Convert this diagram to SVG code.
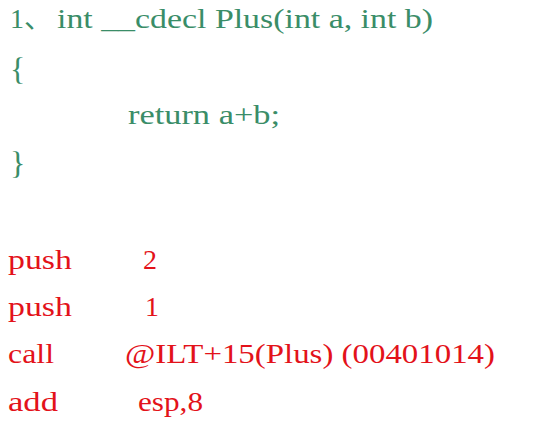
<svg xmlns="http://www.w3.org/2000/svg" width="534" height="432" viewBox="0 0 534 432">
<style>
text{font-family:"Liberation Serif","Noto Sans CJK SC",serif;font-size:28px}
.g{fill:#3a8d68}
.r{fill:#e3121a}
.b{font-size:32px}
</style>
<rect width="534" height="432" fill="#fff"/>
<g id="source">
<text class="g" x="10" y="28">1、</text>
<text class="g" x="57" y="28" textLength="376" lengthAdjust="spacingAndGlyphs">int __cdecl Plus(int a, int b)</text>
<text class="g b" x="10" y="80">{</text>
<text class="g" x="128" y="124" textLength="152" lengthAdjust="spacingAndGlyphs">return a+b;</text>
<text class="g b" x="10" y="174">}</text>
</g>
<g id="asm">
<text class="r" x="8" y="269" textLength="64" lengthAdjust="spacingAndGlyphs">push</text>
<text class="r" x="143" y="269">2</text>
<text class="r" x="8" y="316" textLength="64" lengthAdjust="spacingAndGlyphs">push</text>
<text class="r" x="145" y="316">1</text>
<text class="r" x="8" y="363" textLength="46" lengthAdjust="spacingAndGlyphs">call</text>
<text class="r" x="125" y="363" textLength="370" lengthAdjust="spacingAndGlyphs">@ILT+15(Plus) (00401014)</text>
<text class="r" x="8" y="411" textLength="50" lengthAdjust="spacingAndGlyphs">add</text>
<text class="r" x="138" y="411" textLength="65" lengthAdjust="spacingAndGlyphs">esp,8</text>
</g>
</svg>
